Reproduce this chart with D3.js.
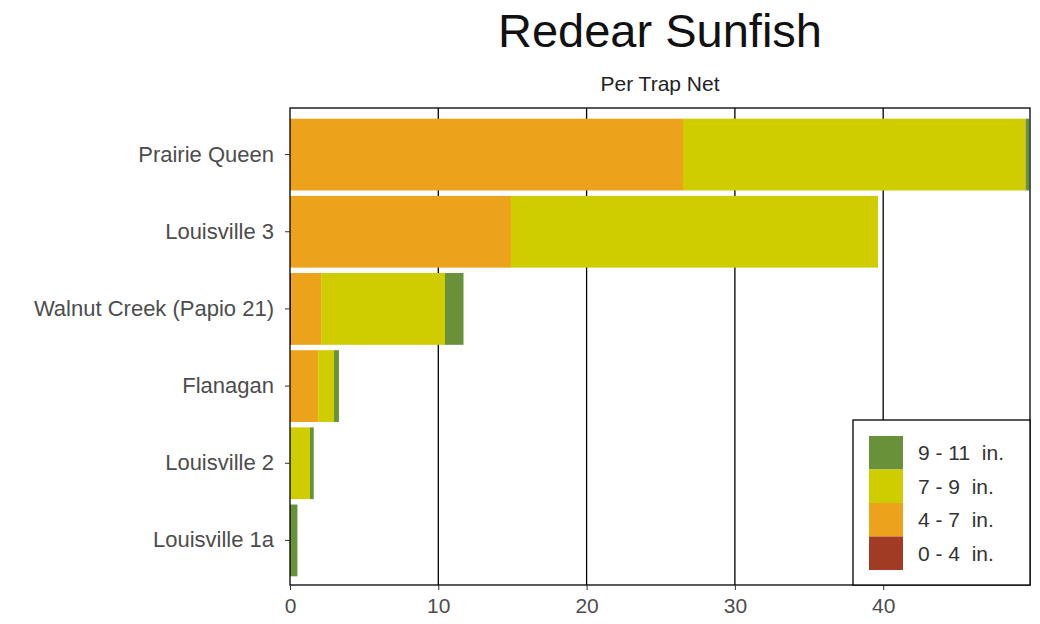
<!DOCTYPE html>
<html><head><meta charset="utf-8">
<script src="https://cdn.jsdelivr.net/npm/d3@7"></script>
<style>body{margin:0;background:#fff;} svg{display:block;font-family:"Liberation Sans",Arial,sans-serif;}</style>
</head><body>
<svg id="c" width="1040" height="624"></svg>
<script>
const lakes = ["Prairie Queen","Louisville 3","Walnut Creek (Papio 21)","Flanagan","Louisville 2","Louisville 1a"];
const sizeClasses = ["0 - 4  in.","4 - 7  in.","7 - 9  in.","9 - 11  in."];
const legendLabels = ["9 - 11  in.","7 - 9  in.","4 - 7  in.","0 - 4  in."];
const colors = ["#a23b23","#eca21a","#cfcc00","#68913a"];
// per-class values (per trap net) for each lake, same order as lakes
const v0_4  = [0,   0,    0.1, 0,   0,   0];
const v4_7  = [26.5,14.9, 2.0, 1.9, 0,   0];
const v7_9  = [23.1,24.75,8.35,1.07,1.35,0];
const v9_11 = [0.25,0,    1.25,0.33,0.25,0.5];
const xTicks = [0,10,20,30,40];

const series = [v0_4, v4_7, v7_9, v9_11];
const svg = d3.select("#c");
const L=290, R=1030, T=108, B=585;
const x = d3.scaleLinear().domain([0,49.9]).range([L,R]);
const y = d3.scaleBand().domain(lakes).range([116,579]).paddingInner(0.07).paddingOuter(0.035);

// gridlines
svg.append("g").selectAll("line").data(xTicks.slice(1)).join("line")
  .attr("x1",d=>x(d)).attr("x2",d=>x(d)).attr("y1",T).attr("y2",B)
  .attr("stroke","#000").attr("stroke-width",1.3);

// bars
const rows = lakes.map((l,i)=>{let acc=0; return series.map((s,k)=>{const a=acc; acc+=s[i]; return {lake:l,k,x0:a,x1:acc};});});
svg.append("g").selectAll("rect").data(rows.flat().filter(d=>d.x1>d.x0)).join("rect")
  .attr("x",d=>x(d.x0)).attr("width",d=>x(d.x1)-x(d.x0))
  .attr("y",d=>y(d.lake)).attr("height",y.bandwidth())
  .attr("fill",d=>colors[d.k]);

// border
svg.append("rect").attr("x",L).attr("y",T).attr("width",R-L).attr("height",B-T)
  .attr("fill","none").attr("stroke","#000").attr("stroke-width",1.3);

// axes
const xa = svg.append("g").attr("transform",`translate(0,${B})`)
  .call(d3.axisBottom(x).tickValues(xTicks).tickSize(5).tickPadding(8).tickFormat(d3.format("d")));
xa.select(".domain").remove();
xa.selectAll("text").attr("font-size",21).attr("fill","#4d4d4d").attr("font-family","Liberation Sans, Arial, sans-serif");
xa.selectAll("line").attr("stroke","#333");
const ya = svg.append("g").attr("transform",`translate(${L},0)`)
  .call(d3.axisLeft(y).tickSize(5).tickPadding(11));
ya.select(".domain").remove();
ya.selectAll("text").attr("font-size",22).attr("fill","#4d4d4d").attr("font-family","Liberation Sans, Arial, sans-serif");
ya.selectAll("line").attr("stroke","#333");

// titles
svg.append("text").attr("x",660).attr("y",47).attr("text-anchor","middle")
  .attr("font-size",47).attr("fill","#111").text("Redear Sunfish");
svg.append("text").attr("x",660).attr("y",91).attr("text-anchor","middle")
  .attr("font-size",21).attr("fill","#222").text("Per Trap Net");

// legend
const lg = svg.append("g");
lg.append("rect").attr("x",853).attr("y",420).attr("width",177).attr("height",165)
  .attr("fill","#fff").attr("stroke","#000").attr("stroke-width",1.3);
const legendColors = [colors[3],colors[2],colors[1],colors[0]];
legendLabels.forEach((t,i)=>{
  lg.append("rect").attr("x",869).attr("y",436+i*33.5).attr("width",34).attr("height",33.5).attr("fill",legendColors[i]);
  lg.append("text").attr("x",918).attr("y",453+i*33.5).attr("dy","0.35em")
    .attr("font-size",21).attr("fill","#333").attr("xml:space","preserve").style("white-space","pre").text(t);
});
</script>
</body></html>
